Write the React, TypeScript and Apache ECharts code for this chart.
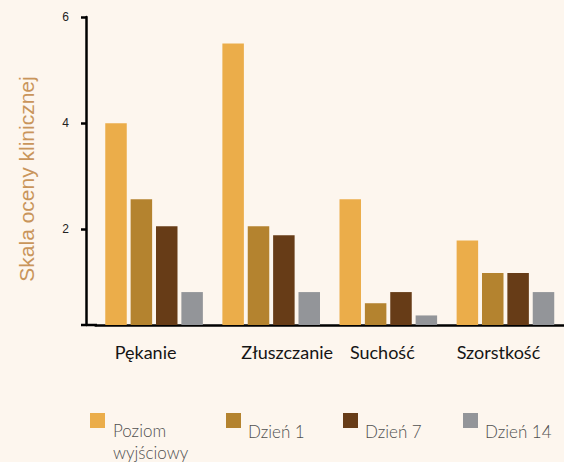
import React, { useEffect, useRef } from "react";
import * as echarts from "echarts";

const categories = ["Pękanie", "Złuszczanie", "Suchość", "Szorstkość"];
const seriesNames = ["Poziom wyjściowy", "Dzień 1", "Dzień 7", "Dzień 14"];
const baseline = [4.0, 5.5, 2.57, 1.79];
const day1 = [2.57, 2.06, 0.61, 1.18];
const day7 = [2.06, 1.89, 0.82, 1.18];
const day14 = [0.82, 0.82, 0.38, 0.82];
const yTicks = [2, 4, 6];

const seriesValues = [baseline, day1, day7, day14];
const colors = ["#EBAD4A", "#B4832F", "#673C17", "#939599"];
const legendLeft = [90, 226, 343, 463];
const labelPad = [
  [0, 17, 0, 0],
  [0, 0, 0, 32],
  [0, 12, 0, 0],
  [0, 14, 0, 0],
];

export default function App() {
  const ref = useRef<HTMLDivElement>(null);
  useEffect(() => {
    if (!ref.current) return;
    const chart = echarts.init(ref.current, null, { renderer: "svg" });
    const rich: any = {};
    labelPad.forEach((p, i) => {
      rich["c" + i] = {
        padding: p,
        fontFamily: "Lato",
        fontSize: 18,
        color: "#151515",
        lineHeight: 20,
      };
    });
    const legendText = {
      fontFamily: "Lato",
      fontSize: 17,
      fontWeight: 300,
      color: "#505050",
    };
    chart.setOption({
      animation: false,
      backgroundColor: "#FDF6EE",
      grid: { left: 95.5, right: -8.6, top: 17, bottom: 137 },
      xAxis: {
        type: "category",
        data: categories,
        axisLine: { lineStyle: { color: "#000", width: 2.5 } },
        axisTick: {
          alignWithLabel: true,
          length: 8,
          lineStyle: { color: "#000", width: 2.5 },
        },
        axisLabel: {
          margin: 17,
          interval: 0,
          formatter: (v: string, i: number) => `{c${i}|${v}}`,
          rich,
        },
      },
      yAxis: {
        type: "value",
        min: 0.2,
        max: 6,
        offset: 9.5,
        name: "Skala oceny klinicznej",
        nameLocation: "middle",
        nameGap: 49,
        nameTextStyle: {
          fontFamily: "Liberation Sans",
          fontSize: 21,
          color: "#C9955B",
          padding: [0, 16, 0, 0],
        },
        splitLine: { show: false },
        axisLine: { show: true, lineStyle: { color: "#000", width: 2.5 } },
        axisTick: {
          show: true,
          length: 5,
          customValues: yTicks,
          lineStyle: { color: "#000", width: 2.5 },
        },
        axisLabel: {
          customValues: yTicks,
          margin: 17,
          fontFamily: "Liberation Sans",
          fontSize: 12,
          color: "#222",
        },
      },
      legend: seriesNames.map((n, i) => ({
        data: [{ name: n, icon: "rect" }],
        left: legendLeft[i],
        top: 413,
        itemWidth: 15,
        itemHeight: 15,
        padding: 0,
        selectedMode: false,
        formatter: (name: string) => {
          const parts = name.split(" ");
          if (i === 0) return `{a|${parts[0]}}\n{b|${parts[1]}}`;
          return `{s|${name}}`;
        },
        textStyle: {
          ...legendText,
          rich: {
            a: { ...legendText, padding: [41, 0, 0, 3] },
            b: { ...legendText, padding: [5, 0, 0, 3] },
            s: { ...legendText, padding: [21, 0, 0, 2] },
          },
        },
      })),
      graphic: [
        {
          type: "line",
          shape: { x1: 81, y1: 325, x2: 97, y2: 325 },
          style: { stroke: "#000", lineWidth: 2.5 },
        },
      ],
      series: seriesNames.map((n, i) => ({
        name: n,
        type: "bar",
        data: seriesValues[i],
        barWidth: 21.5,
        barGap: "18%",
        itemStyle: { color: colors[i] },
      })),
    });
    return () => chart.dispose();
  }, []);
  return (
    <div
      ref={ref}
      style={{ position: "fixed", left: 0, top: 0, width: 564, height: 462 }}
    />
  );
}
